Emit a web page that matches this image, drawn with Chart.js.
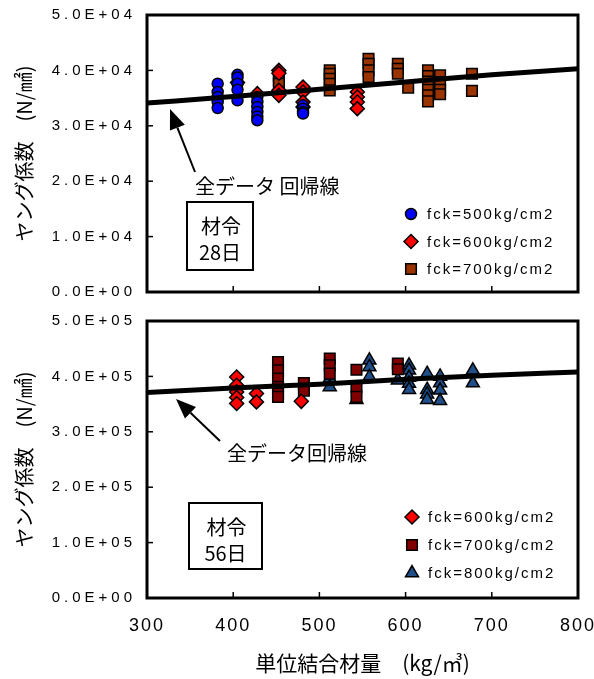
<!DOCTYPE html>
<html>
<head>
<meta charset="utf-8">
<script src="https://cdn.jsdelivr.net/npm/chart.js@4.4.1/dist/chart.umd.min.js"></script>
<style>
  html, body { margin: 0; padding: 0; background: #fff; }
  #wrap { position: relative; width: 594px; height: 679px; overflow: hidden; }
  canvas { position: absolute; left: 0; }
  #topChart { top: 0; }
  #botChart { top: 306px; }
</style>
</head>
<body>
<div id="wrap">
  <canvas id="topChart" width="594" height="306"></canvas>
  <canvas id="botChart" width="594" height="373"></canvas>
</div>
<script>
// Regression lines
const regX = [300, 400, 500, 600, 700, 800];
const regTop = [34100, 35300, 36600, 37900, 39200, 40300];
const regBot = [371000, 379000, 386000, 395000, 402000, 408000];

// 材令28日
const t500X = [382, 382, 382, 382, 382, 405, 405, 405, 405, 405, 428, 428, 428, 428, 428, 428, 481, 481, 481, 481];
const t500Y = [37600, 36100, 35200, 34300, 33200, 39200, 38700, 37600, 36500, 34600, 35200, 34300, 33400, 32500, 31700, 31000, 33700, 33100, 32500, 32200];
const t600X = [405, 428, 453, 453, 453, 453, 481, 481, 481, 481, 544, 544, 544, 544];
const t600Y = [37800, 35800, 40000, 39500, 36400, 35500, 37000, 36100, 34300, 33400, 36100, 35200, 34300, 33100];
const t700X = [453, 453, 453, 512, 512, 512, 512, 512, 557, 557, 557, 557, 591, 591, 591, 603, 626, 626, 626, 626, 626, 626, 640, 640, 640, 640, 677, 677];
const t700Y = [39100, 38200, 37600, 40000, 39400, 38500, 37600, 36400, 42100, 41200, 40000, 38800, 41200, 40300, 39400, 36900, 40000, 39000, 38000, 36500, 35500, 34400, 39100, 37900, 36500, 35700, 39400, 36300];

// 材令56日
const b600X = [404, 404, 404, 404, 404, 427, 427, 479];
const b600Y = [399000, 384000, 372000, 362000, 351000, 369000, 354000, 355000];
const b700X = [452, 452, 452, 452, 452, 452, 482, 482, 512, 512, 512, 543, 543, 543, 591, 591];
const b700Y = [426000, 411000, 396000, 381000, 369000, 363000, 388000, 374000, 432000, 420000, 405000, 412000, 381000, 363000, 423000, 413000];
const b800X = [512, 512, 543, 558, 558, 558, 591, 604, 604, 604, 604, 604, 625, 625, 625, 625, 640, 640, 640, 640, 678, 678];
const b800Y = [396000, 381000, 358000, 429000, 417000, 399000, 393000, 420000, 411000, 398000, 387000, 376000, 405000, 376000, 368000, 358000, 400000, 388000, 375000, 356000, 411000, 388000];

const labels28 = ['fck=500kg/cm2', 'fck=600kg/cm2', 'fck=700kg/cm2'];
const labels56 = ['fck=600kg/cm2', 'fck=700kg/cm2', 'fck=800kg/cm2'];

// marker styles
const mkCircle = { style: 'circle', color: '#0000ff', radius: 5.5 };
const mkDiamond = { style: 'rectRot', color: '#ff0000', radius: 7 };
const mkSquareBrown = { style: 'rect', color: '#993300', radius: 7.5 };
const mkSquareRed = { style: 'rect', color: '#800000', radius: 7.5 };
const mkTriangle = { style: 'triangle', color: '#1f4e89', radius: 7.5 };

const NUM_FONT = '"Liberation Sans", Arial, sans-serif';
const JP_FONT = '"Noto Sans CJK JP", sans-serif';

function sci(v) {
  if (v === 0) return '0.0E+00';
  const e = Math.floor(Math.log10(v) + 1e-9);
  const m = v / Math.pow(10, e);
  return m.toFixed(1) + 'E+' + String(e).padStart(2, '0');
}

function pts(xs, ys) {
  return xs.map((x, i) => ({ x: x, y: ys[i] }));
}

function series(label, xs, ys, mk) {
  return {
    label: label,
    data: pts(xs, ys),
    showLine: false,
    pointStyle: mk.style,
    pointRadius: mk.radius,
    pointHoverRadius: mk.radius,
    pointBackgroundColor: mk.color,
    pointBorderColor: '#000',
    pointBorderWidth: 1.5
  };
}

function regLine(ys) {
  return {
    label: 'reg',
    data: pts(regX, ys),
    showLine: true,
    borderColor: '#000',
    borderWidth: 5,
    pointRadius: 0,
    cubicInterpolationMode: 'monotone'
  };
}

function marker(ctx, mk, x, y) {
  ctx.save();
  ctx.fillStyle = mk.color;
  ctx.strokeStyle = '#000';
  ctx.lineWidth = 1.5;
  if (Chart.helpers && Chart.helpers.drawPoint) {
    Chart.helpers.drawPoint(ctx, { pointStyle: mk.style, radius: mk.radius, rotation: 0, borderWidth: 1.5 }, x, y);
  } else {
    ctx.beginPath();
    ctx.arc(x, y, mk.radius, 0, Math.PI * 2);
    ctx.fill();
    ctx.stroke();
  }
  ctx.restore();
}

function arrow(ctx, x1, y1, x2, y2) {
  const a = Math.atan2(y2 - y1, x2 - x1);
  const L = 20, W = 8;
  const bx = x2 - L * Math.cos(a), by = y2 - L * Math.sin(a);
  ctx.save();
  ctx.strokeStyle = '#000';
  ctx.fillStyle = '#000';
  ctx.lineWidth = 2;
  ctx.beginPath();
  ctx.moveTo(x1, y1);
  ctx.lineTo(bx, by);
  ctx.stroke();
  ctx.beginPath();
  ctx.moveTo(x2, y2);
  ctx.lineTo(bx + W * Math.sin(a), by - W * Math.cos(a));
  ctx.lineTo(bx - W * Math.sin(a), by + W * Math.cos(a));
  ctx.closePath();
  ctx.fill();
  ctx.restore();
}

// frame, inward ticks, legend, notes
function decoPlugin(d) {
  return {
    id: 'deco',
    beforeDraw(chart) {
      // wider letter spacing on the tick labels
      ['x', 'y'].forEach(id => {
        const s = chart.scales[id];
        if (s._spaced) return;
        const orig = s.drawLabels.bind(s);
        s.drawLabels = function (area) {
          const ctx = chart.ctx;
          ctx.save();
          ctx.letterSpacing = id === 'y' ? '4px' : '2px';
          orig(area);
          ctx.restore();
        };
        s._spaced = true;
      });
    },
    afterDraw(chart) {
      const ctx = chart.ctx;
      const a = chart.chartArea;
      const xs = chart.scales.x, ys = chart.scales.y;
      ctx.save();
      ctx.strokeStyle = '#000';
      ctx.lineWidth = 1.5;
      ys.ticks.forEach(t => {
        const py = ys.getPixelForValue(t.value);
        ctx.beginPath(); ctx.moveTo(a.left, py); ctx.lineTo(a.left + 6, py); ctx.stroke();
      });
      xs.ticks.forEach(t => {
        const px = xs.getPixelForValue(t.value);
        ctx.beginPath(); ctx.moveTo(px, a.bottom); ctx.lineTo(px, a.bottom - 6); ctx.stroke();
      });
      ctx.lineWidth = 3;
      ctx.strokeRect(a.left, a.top, a.right - a.left, a.bottom - a.top);

      // legend
      ctx.fillStyle = '#000';
      ctx.font = '15px ' + NUM_FONT;
      ctx.textBaseline = 'middle';
      ctx.textAlign = 'left';
      ctx.letterSpacing = '2px';
      d.legend.forEach((it, i) => {
        const y = d.legendY + i * d.legendGap;
        marker(ctx, it.mk, d.legendX, y);
        ctx.fillStyle = '#000';
        ctx.fillText(it.label, d.legendX + 16, y + 1);
      });
      ctx.letterSpacing = '0px';

      // note + arrow
      arrow(ctx, d.arrow[0], d.arrow[1], d.arrow[2], d.arrow[3]);
      ctx.font = '20px ' + JP_FONT;
      ctx.fillText(d.note, d.noteX, d.noteY);

      // age box
      const b = d.box;
      ctx.lineWidth = 2;
      ctx.strokeRect(b[0], b[1], b[2] - b[0], b[3] - b[1]);
      ctx.textAlign = 'center';
      ctx.fillText(d.age[0], (b[0] + b[2]) / 2 + 1, b[1] + 24);
      ctx.fillText(d.age[1], (b[0] + b[2]) / 2, b[1] + 50);
      ctx.restore();
    }
  };
}

function makeChart(canvasId, datasets, yMax, yStep, xHeight, showXLabels, deco) {
  const xScale = {
    type: 'linear', min: 300, max: 800,
    ticks: { stepSize: 100, display: showXLabels, color: '#000', font: { size: 18, family: NUM_FONT }, padding: 17 },
    grid: { display: false, drawTicks: false },
    border: { display: false },
    title: {
      display: showXLabels, text: '単位結合材量　(kg/㎥)', color: '#000',
      font: { size: 21, family: JP_FONT }, padding: { top: 0, bottom: 3 }
    },
    // keep the plot box fixed: no extra room for label overhang
    afterFit: s => { s.height = xHeight; s.paddingLeft = 0; s.paddingRight = 0; }
  };
  const yScale = {
    type: 'linear', min: 0, max: yMax,
    ticks: { stepSize: yStep, color: '#000', font: { size: 15, family: NUM_FONT }, padding: 11, callback: v => sci(v) },
    grid: { display: false, drawTicks: false },
    border: { display: false },
    title: {
      display: true, text: 'ヤング係数　(N/㎟)', color: '#000',
      font: { size: 20, family: JP_FONT }, padding: { top: 12, bottom: 0 }
    },
    afterFit: s => { s.width = 147; s.paddingTop = 0; s.paddingBottom = 0; }
  };
  return new Chart(document.getElementById(canvasId), {
    type: 'scatter',
    data: { datasets: datasets },
    options: {
      responsive: false,
      animation: false,
      devicePixelRatio: 1,
      layout: { autoPadding: false, padding: { top: 15, right: 16, left: 0, bottom: 0 } },
      plugins: { legend: { display: false }, tooltip: { enabled: false } },
      scales: { x: xScale, y: yScale }
    },
    plugins: [decoPlugin(deco)]
  });
}

makeChart('topChart', [
  regLine(regTop),
  series(labels28[0], t500X, t500Y, mkCircle),
  series(labels28[1], t600X, t600Y, mkDiamond),
  series(labels28[2], t700X, t700Y, mkSquareBrown)
], 50000, 10000, 14, false, {
  legend: [
    { label: labels28[0], mk: mkCircle },
    { label: labels28[1], mk: mkDiamond },
    { label: labels28[2], mk: mkSquareBrown }
  ],
  legendX: 411, legendY: 214, legendGap: 27.5,
  arrow: [195, 172, 170, 109],
  note: '全データ 回帰線', noteX: 195, noteY: 186,
  box: [187, 202, 253, 270],
  age: ['材令', '28日']
});

makeChart('botChart', [
  regLine(regBot),
  series(labels56[0], b600X, b600Y, mkDiamond),
  series(labels56[1], b700X, b700Y, mkSquareRed),
  series(labels56[2], b800X, b800Y, mkTriangle)
], 500000, 100000, 81, true, {
  legend: [
    { label: labels56[0], mk: mkDiamond },
    { label: labels56[1], mk: mkSquareRed },
    { label: labels56[2], mk: mkTriangle }
  ],
  legendX: 412, legendY: 211, legendGap: 28,
  arrow: [220, 135, 176, 93],
  note: '全データ回帰線', noteX: 227, noteY: 147,
  box: [189, 197, 262, 263],
  age: ['材令', '56日']
});
</script>
</body>
</html>
